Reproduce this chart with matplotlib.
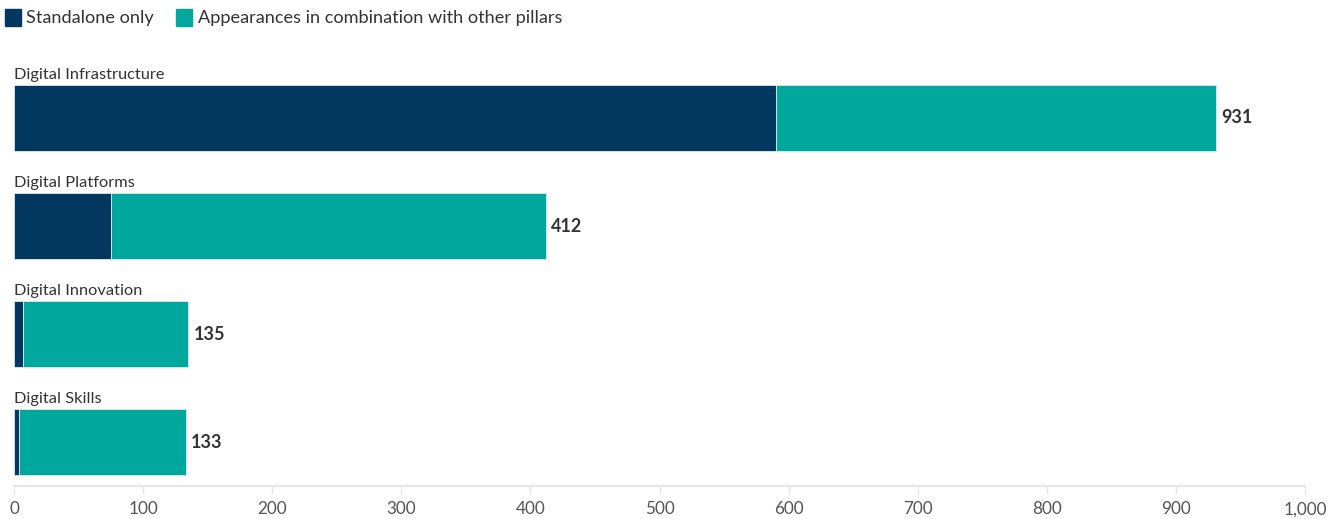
import matplotlib
matplotlib.use("Agg")
import matplotlib.pyplot as plt
from matplotlib.patches import Rectangle

categories = ["Digital Infrastructure", "Digital Platforms", "Digital Innovation", "Digital Skills"]
standalone = [590, 75, 7, 4]
totals = [931, 412, 135, 133]
combination = [t - s for t, s in zip(totals, standalone)]
series_names = ["Standalone only", "Appearances in combination with other pillars"]
xticks = [0, 100, 200, 300, 400, 500, 600, 700, 800, 900, 1000]
xtick_labels = ["0", "100", "200", "300", "400", "500", "600", "700", "800", "900", "1,000"]

NAVY = "#02375f"
TEAL = "#00a79d"
TXT = "#333333"

plt.rcParams['font.family'] = ['Lato', 'DejaVu Sans']

W, H = 1343, 519
fig = plt.figure(figsize=(W / 100, H / 100), dpi=100)
ax = fig.add_axes([14 / W, 1 - 486 / H, (1305 - 14) / W, (486 - 40) / H])

ypos = list(range(len(categories)))
bh = 0.611
ax.barh(ypos, standalone, height=bh, color=NAVY, edgecolor="#dfe9ef", linewidth=0.6)
ax.barh(ypos, combination, left=standalone, height=bh, color=TEAL, edgecolor="#dfe9ef", linewidth=0.6)

for y, cat, tot in zip(ypos, categories, totals):
    ax.text(0, y - bh / 2 - 0.03, cat, ha="left", va="bottom", fontsize=11.8, color=TXT)
    ax.text(tot + 4, y, f"{tot}", ha="left", va="center", fontsize=13, fontweight="bold", color=TXT)

ax.set_xlim(0, 1000)
ax.set_ylim(3.407, -0.722)
ax.set_yticks([])
ax.set_xticks(xticks)
ax.set_xticklabels(xtick_labels, fontsize=12.3, color="#555555")
ax.tick_params(axis="x", length=6, width=1, color="#e6e6e6", pad=5)
for s in ["top", "right", "left"]:
    ax.spines[s].set_visible(False)
ax.spines["bottom"].set_color("#e6e6e6")
ax.spines["bottom"].set_linewidth(1.5)

# legend
def fx(px):
    return px / W

def fy(py):
    return 1 - py / H

fig.patches.append(Rectangle((fx(5), fy(26)), 16 / W, 17 / H, transform=fig.transFigure, color=NAVY))
fig.text(fx(26), fy(18), series_names[0], fontsize=13.1, color=TXT, va="center", ha="left")
fig.patches.append(Rectangle((fx(176), fy(26)), 16 / W, 17 / H, transform=fig.transFigure, color=TEAL))
fig.text(fx(198), fy(18), series_names[1], fontsize=13.1, color=TXT, va="center", ha="left")

fig.savefig("out.png", dpi=100)
